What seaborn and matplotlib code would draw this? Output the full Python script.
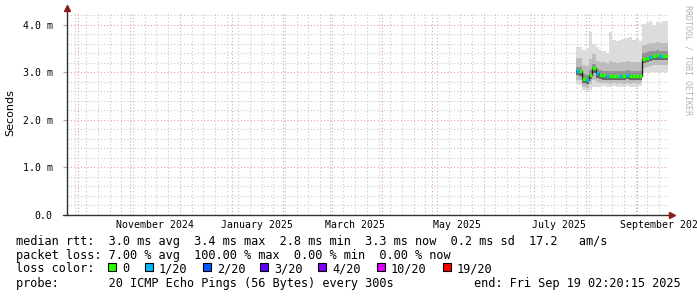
import numpy as np
import pandas as pd
import seaborn as sns
import matplotlib.pyplot as plt
import matplotlib.dates as mdates
from matplotlib.ticker import MultipleLocator, FuncFormatter
from matplotlib.transforms import blended_transform_factory
from matplotlib.patches import Rectangle

# --- data (ms) ---
sample_start = '2025-07-26'
graph_end = pd.Timestamp('2025-09-19 02:20:15')
graph_days = 360

median_ms = [3.02, 3.02, 2.87, 2.85, 2.95, 3.09, 2.98, 2.95, 2.94, 2.93, 2.92, 2.93, 2.92, 2.93,
             2.92, 2.95, 2.92, 2.93, 2.92, 2.93, 3.29, 3.31, 3.33, 3.35, 3.36, 3.35, 3.35]
loss_count = [1, 0, 0, 1, 0, 0, 1, 0, 0, 1, 0, 0, 0, 1, 0, 1, 0, 0, 0, 0, 0, 0, 1, 0, 0, 1, 0]
ping_max = [3.54, 3.54, 3.47, 3.52, 3.84, 3.60, 3.54, 3.47, 3.45, 3.40, 3.86, 3.68, 3.66, 3.68,
            3.70, 3.72, 3.74, 3.68, 3.70, 3.66, 4.02, 4.05, 4.08, 4.00, 4.06, 4.04, 4.08]
ping_p90 = [3.30, 3.30, 3.15, 3.14, 3.28, 3.38, 3.25, 3.22, 3.21, 3.20, 3.24, 3.22, 3.20, 3.22,
            3.21, 3.24, 3.22, 3.22, 3.21, 3.22, 3.58, 3.60, 3.62, 3.62, 3.63, 3.62, 3.62]
ping_p75 = [3.12, 3.12, 2.97, 2.95, 3.05, 3.18, 3.08, 3.05, 3.04, 3.03, 3.03, 3.03, 3.02, 3.03,
            3.02, 3.05, 3.02, 3.03, 3.02, 3.03, 3.40, 3.42, 3.44, 3.46, 3.47, 3.46, 3.46]
ping_p25 = [2.94, 2.93, 2.78, 2.76, 2.86, 2.98, 2.88, 2.86, 2.85, 2.84, 2.84, 2.85, 2.84, 2.85,
            2.84, 2.86, 2.84, 2.85, 2.84, 2.85, 3.20, 3.22, 3.24, 3.26, 3.27, 3.26, 3.26]
ping_p10 = [2.85, 2.84, 2.70, 2.68, 2.76, 2.84, 2.79, 2.78, 2.77, 2.77, 2.76, 2.77, 2.76, 2.77,
            2.76, 2.78, 2.76, 2.77, 2.76, 2.77, 3.10, 3.12, 3.13, 3.15, 3.16, 3.15, 3.15]
ping_min = [2.75, 2.74, 2.62, 2.60, 2.64, 2.70, 2.70, 2.70, 2.71, 2.70, 2.70, 2.71, 2.70, 2.70,
            2.70, 2.71, 2.70, 2.70, 2.70, 2.71, 2.98, 3.00, 2.99, 3.00, 3.00, 2.99, 3.00]

loss_labels = ['0', '1/20', '2/20', '3/20', '4/20', '10/20', '19/20']
loss_colors = ['#26ff00', '#00b8ff', '#0059ff', '#5e00ff', '#7e00ff', '#dd00ff', '#ff0000']

month_labels = ['November 2024', 'January 2025', 'March 2025', 'May 2025', 'July 2025', 'September 2025']
month_label_dates = ['2024-11-16', '2025-01-16', '2025-03-16', '2025-05-16', '2025-07-16', '2025-09-16']

legend_lines = [
  'median rtt:  3.0 ms avg  3.4 ms max  2.8 ms min  3.3 ms now  0.2 ms sd  17.2   am/s',
  'packet loss: 7.00 % avg  100.00 % max  0.00 % min  0.00 % now',
  'loss color:',
  'probe:       20 ICMP Echo Pings (56 Bytes) every 300s',
]
end_text = 'end: Fri Sep 19 02:20:15 2025'


def main():
  sns.set_theme(style='white')
  plt.rcParams['font.family'] = ['DejaVu Sans Mono']

  W, H = 697, 297
  fig = plt.figure(figsize=(W / 100, H / 100), dpi=100)
  fig.patch.set_facecolor('white')
  left, right, top, bottom = 66.5, 667.5, 13, 215
  ax = fig.add_axes([left / W, 1 - bottom / H, (right - left) / W, (bottom - top) / H])
  ax.set_facecolor('white')

  dates = pd.date_range(sample_start, periods=len(median_ms), freq='2D')
  edges = dates.append(pd.DatetimeIndex([graph_end]))
  pad = lambda v: list(v) + [v[-1]]

  # smoke
  bands = [(ping_min, ping_max, '#dcdcdc'), (ping_p10, ping_p90, '#bdbdbd'),
           (ping_p25, ping_p75, '#939393')]
  for lo, hi, c in bands:
    ax.fill_between(edges, pad(lo), pad(hi), step='post', color=c, lw=0, zorder=2)
  ax.fill_between(edges, pad(ping_p25), pad(median_ms), step='post', color='#666666', lw=0, zorder=2)

  # median: dark step line + loss coloured segments
  df = pd.DataFrame({'t': edges, 'median': pad(median_ms)})
  sns.lineplot(data=df, x='t', y='median', drawstyle='steps-post', color='#202020', lw=1.0, ax=ax, zorder=3)
  ax.hlines(median_ms, dates[:], edges[1:], colors=[loss_colors[k] for k in loss_count], lw=2.4, zorder=4)

  ax.set_xlim(graph_end - pd.Timedelta(days=graph_days), graph_end)
  ax.set_ylim(0, 4.25)
  ax.set_xlabel('')
  ax.set_ylabel('')

  # grid
  ax.xaxis.set_major_locator(mdates.MonthLocator())
  ax.xaxis.set_minor_locator(mdates.WeekdayLocator(byweekday=mdates.SU))
  ax.yaxis.set_major_locator(MultipleLocator(1.0))
  ax.yaxis.set_minor_locator(MultipleLocator(0.2))
  ax.grid(which='minor', color='#c8c8c8', ls=(0, (1, 2)), lw=0.8)
  ax.grid(which='major', color='#eba0a0', ls=(0, (1, 2)), lw=0.8)
  ax.set_axisbelow(True)
  ax.xaxis.set_major_formatter(FuncFormatter(lambda v, p: ''))
  ax.yaxis.set_major_formatter(FuncFormatter(lambda v, p: '0.0' if v == 0 else '%.1f m' % v))
  ax.tick_params(axis='y', which='major', left=True, length=3, width=0.8, color='#aaaaaa',
                 pad=7, labelsize=7.1, labelcolor='black')
  ax.tick_params(axis='y', which='minor', left=False)
  ax.tick_params(axis='x', which='both', bottom=False, length=0)
  for s in ax.spines.values():
    s.set_visible(False)

  # axes with arrows
  ax.plot([0, 0], [0, 1 + 5 / 202], transform=ax.transAxes, color='#303030', lw=1.0, clip_on=False, zorder=5)
  ax.plot([-4 / 601, 1 + 4 / 601], [0, 0], transform=ax.transAxes, color='#303030', lw=1.0, clip_on=False, zorder=5)
  ax.plot([0], [1 + 5 / 202], transform=ax.transAxes, marker='^', ms=4.5, color='#8b1a1a', clip_on=False, zorder=6)
  ax.plot([1 + 4 / 601], [0], transform=ax.transAxes, marker='>', ms=4.5, color='#8b1a1a', clip_on=False, zorder=6)

  # month labels
  tr = blended_transform_factory(ax.transData, fig.transFigure)
  for lab, d in zip(month_labels, month_label_dates):
    ax.text(mdates.date2num(pd.Timestamp(d)), 1 - 224.5 / H, lab, transform=tr, ha='center', va='center',
            fontsize=7.1, color='black', clip_on=False)

  fig.text(10 / W, 1 - 113 / H, 'Seconds', rotation=90, ha='center', va='center', fontsize=8,
           family='DejaVu Sans', color='black')
  fig.text(688 / W, 1 - 60 / H, 'RRDTOOL / TOBI OETIKER', rotation=270, ha='center', va='center',
           fontsize=6, color='#b4b4b4')

  # legend block
  line_y = [241, 255, 268.5, 283]
  for txt, y in zip(legend_lines, line_y):
    fig.text(16 / W, 1 - y / H, txt, ha='left', va='center', fontsize=8.55, color='black')
  fig.text(681 / W, 1 - 283 / H, end_text, ha='right', va='center', fontsize=8.55, color='black')

  box_x = [108, 145, 203, 260, 318, 377, 443]
  for bx, lab, c in zip(box_x, loss_labels, loss_colors):
    fig.patches.append(Rectangle((bx / W, 1 - 270.7 / H), 7.8 / W, 7.8 / H, transform=fig.transFigure,
                                 facecolor=c, edgecolor='black', lw=0.8))
    fig.text((bx + 14) / W, 1 - 268.5 / H, lab, ha='left', va='center', fontsize=8.55, color='black')

  fig.savefig('out.png', dpi=100)


if __name__ == '__main__':
  main()
